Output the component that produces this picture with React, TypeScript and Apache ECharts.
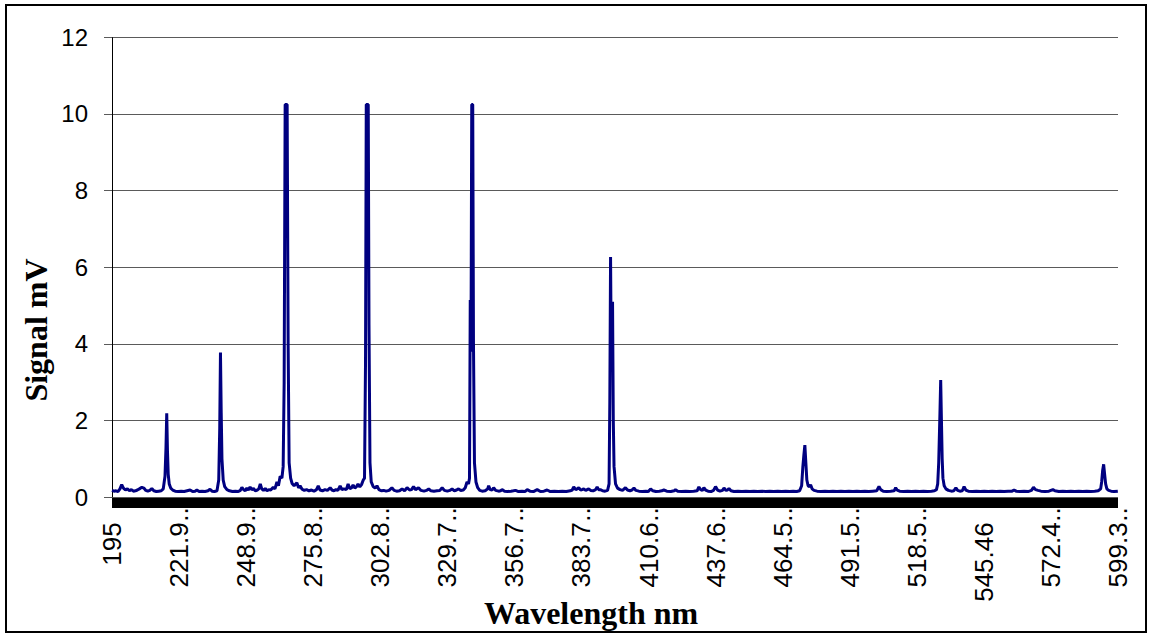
import React, { useEffect, useRef } from "react";
import * as echarts from "echarts";

// Emission spectrum: wavelength (nm) and detector signal (mV)
const WAVELENGTH_NM = [
  195.0, 195.8, 196.6, 197.4, 198.2, 198.9, 199.6, 200.4, 201.2, 202.0, 202.8, 203.6, 204.4, 205.2, 206.0, 207.0,
  207.8, 208.6, 209.4, 210.2, 211.0, 211.8, 212.8, 213.8, 214.8, 215.6, 216.3, 216.7, 217.0, 217.3, 217.6, 218.0,
  218.6, 219.4, 220.4, 221.6, 222.8, 224.0, 225.2, 226.4, 227.4, 228.4, 229.1, 230.0, 231.2, 232.4, 233.6, 234.4,
  235.2, 236.2, 237.2, 237.9, 238.3, 238.6, 238.9, 239.2, 239.7, 240.3, 241.2, 242.2, 243.4, 244.6, 245.8, 246.6,
  247.2, 247.9, 248.6, 249.2, 249.8, 250.5, 251.2, 251.9, 252.6, 253.4, 254.0, 254.6, 255.2, 255.9, 256.6, 257.3,
  258.0, 258.8, 259.8, 260.5, 261.3, 261.9, 262.6, 263.3, 263.8, 264.2, 264.6, 265.4, 265.8, 266.2, 266.8, 267.4,
  268.2, 269.3, 270.0, 270.6, 271.4, 272.3, 273.2, 274.2, 275.2, 276.2, 277.2, 277.9, 278.6, 279.6, 280.6, 281.6,
  282.7, 283.4, 284.2, 285.0, 285.8, 286.7, 287.4, 288.2, 289.2, 289.9, 290.6, 291.3, 291.9, 292.6, 293.3, 293.9,
  294.6, 295.3, 296.0, 296.5, 296.9, 297.2, 298.0, 298.3, 298.7, 299.2, 300.0, 300.8, 301.5, 302.3, 303.2, 304.2,
  305.2, 306.4, 307.5, 308.4, 309.4, 310.6, 311.6, 312.6, 313.6, 314.6, 315.4, 316.2, 317.0, 318.2, 319.2, 320.4,
  321.4, 322.3, 323.2, 324.4, 325.6, 326.8, 327.7, 328.6, 329.8, 330.8, 331.7, 332.6, 333.5, 334.3, 335.2, 336.2,
  337.0, 337.7, 338.3, 338.7, 339.0, 339.3, 339.6, 340.0, 340.3, 340.7, 341.3, 342.0, 342.8, 343.8, 345.0, 346.0,
  346.4, 347.0, 347.8, 348.4, 349.2, 350.4, 351.2, 351.8, 352.8, 354.0, 355.4, 356.4, 357.2, 358.4, 359.8, 361.0,
  361.9, 363.0, 364.4, 365.9, 367.2, 368.6, 369.9, 371.2, 372.8, 374.4, 376.0, 377.6, 379.2, 380.0, 380.6, 381.4,
  382.0, 382.6, 383.4, 384.0, 384.6, 385.4, 386.0, 386.6, 387.4, 388.4, 389.4, 390.0, 390.6, 391.3, 392.2, 393.2,
  394.2, 394.8, 395.1, 395.4, 395.7, 396.0, 396.2, 396.5, 396.8, 397.4, 398.2, 399.2, 400.2, 401.4, 402.2, 403.2,
  404.0, 404.8, 405.6, 406.8, 408.2, 409.6, 410.6, 411.5, 412.4, 413.6, 415.0, 416.0, 416.8, 418.0, 419.6, 421.0,
  421.5, 422.4, 424.0, 425.6, 427.2, 428.8, 430.2, 430.9, 431.6, 432.3, 432.9, 433.6, 434.6, 435.8, 436.8, 437.6,
  438.4, 439.4, 440.4, 441.0, 441.8, 442.4, 443.0, 443.8, 445.0, 446.6, 448.2, 449.8, 451.4, 453.0, 454.6, 456.2,
  457.8, 459.4, 461.0, 462.6, 464.2, 465.8, 467.4, 468.8, 470.2, 471.4, 472.2, 472.7, 473.1, 473.5, 473.9, 474.3,
  474.8, 475.4, 475.8, 476.4, 477.2, 478.4, 480.0, 481.6, 483.2, 484.8, 486.4, 488.0, 489.6, 491.2, 492.8, 494.4,
  496.0, 497.6, 499.2, 500.8, 502.4, 503.3, 504.0, 505.0, 506.4, 508.0, 509.4, 510.0, 510.6, 511.6, 513.2, 514.8,
  516.4, 518.0, 519.6, 521.2, 522.8, 524.4, 525.6, 526.4, 526.9, 527.3, 527.8, 528.1, 528.4, 528.7, 529.0, 529.5,
  530.2, 531.2, 532.4, 533.4, 534.2, 534.9, 535.8, 536.8, 537.5, 538.2, 539.2, 540.8, 542.4, 544.0, 545.6, 547.2,
  548.8, 550.4, 552.0, 553.6, 555.2, 556.8, 557.6, 558.4, 560.0, 561.6, 563.2, 564.6, 565.4, 566.2, 567.2, 568.4,
  570.0, 571.6, 573.2, 574.0, 575.6, 577.2, 578.8, 580.4, 582.0, 583.6, 585.2, 586.8, 588.4, 590.0, 591.4, 592.4,
  592.8, 593.2, 593.6, 594.0, 594.4, 594.9, 595.6, 596.6, 597.8, 599.3,
];

const SIGNAL_MV = [
  0.18, 0.16, 0.17, 0.15, 0.22, 0.33, 0.24, 0.19, 0.22, 0.17, 0.2, 0.16, 0.17, 0.19, 0.22, 0.26,
  0.24, 0.18, 0.16, 0.18, 0.23, 0.17, 0.15, 0.16, 0.17, 0.22, 0.55, 1.3, 2.19, 1.2, 0.6, 0.35,
  0.24, 0.19, 0.16, 0.15, 0.16, 0.15, 0.17, 0.19, 0.15, 0.16, 0.19, 0.15, 0.16, 0.15, 0.17, 0.21,
  0.16, 0.15, 0.17, 0.45, 1.8, 3.78, 2.2, 1.0, 0.45, 0.28, 0.2, 0.17, 0.15, 0.16, 0.15, 0.18,
  0.26, 0.2, 0.17, 0.24, 0.19, 0.27, 0.2, 0.23, 0.17, 0.19, 0.22, 0.35, 0.22, 0.18, 0.23, 0.17,
  0.2, 0.19, 0.26, 0.22, 0.4, 0.3, 0.55, 0.5, 0.8, 3.0, 10.25, 10.25, 4.0, 0.9, 0.5, 0.36,
  0.3, 0.38, 0.25, 0.3, 0.21, 0.18, 0.2, 0.17, 0.19, 0.16, 0.2, 0.3, 0.19, 0.17, 0.2, 0.18,
  0.25, 0.19, 0.17, 0.2, 0.18, 0.3, 0.2, 0.22, 0.2, 0.35, 0.22, 0.25, 0.32, 0.24, 0.28, 0.35,
  0.27, 0.33, 0.45, 0.5, 3.5, 10.25, 10.25, 4.5, 0.9, 0.4, 0.28, 0.24, 0.3, 0.2, 0.17, 0.18,
  0.16, 0.18, 0.25, 0.18, 0.16, 0.17, 0.22, 0.17, 0.25, 0.19, 0.2, 0.28, 0.2, 0.25, 0.18, 0.16,
  0.18, 0.22, 0.17, 0.16, 0.17, 0.18, 0.25, 0.18, 0.16, 0.18, 0.22, 0.17, 0.19, 0.22, 0.18, 0.19,
  0.25, 0.4, 0.35, 0.5, 5.15, 3.8, 10.25, 10.25, 4.0, 0.9, 0.4, 0.25, 0.18, 0.16, 0.17, 0.22,
  0.3, 0.2, 0.19, 0.25, 0.18, 0.16, 0.17, 0.2, 0.16, 0.15, 0.16, 0.17, 0.18, 0.15, 0.16, 0.15,
  0.2, 0.16, 0.15, 0.2, 0.15, 0.16, 0.19, 0.15, 0.16, 0.15, 0.16, 0.15, 0.17, 0.19, 0.27, 0.2,
  0.22, 0.25, 0.19, 0.2, 0.22, 0.18, 0.2, 0.22, 0.18, 0.17, 0.2, 0.27, 0.2, 0.2, 0.17, 0.16,
  0.18, 0.35, 2.5, 6.27, 3.5, 4.2, 5.1, 2.0, 0.8, 0.35, 0.24, 0.2, 0.18, 0.25, 0.19, 0.17,
  0.19, 0.24, 0.18, 0.16, 0.15, 0.16, 0.15, 0.22, 0.17, 0.15, 0.16, 0.17, 0.19, 0.16, 0.15, 0.17,
  0.2, 0.16, 0.15, 0.16, 0.15, 0.16, 0.17, 0.27, 0.2, 0.18, 0.25, 0.19, 0.16, 0.15, 0.18, 0.28,
  0.19, 0.16, 0.18, 0.24, 0.18, 0.19, 0.23, 0.17, 0.15, 0.16, 0.15, 0.16, 0.15, 0.16, 0.15, 0.16,
  0.15, 0.16, 0.15, 0.16, 0.15, 0.16, 0.15, 0.16, 0.15, 0.17, 0.3, 0.8, 1.1, 1.36, 0.9, 0.45,
  0.3, 0.28, 0.33, 0.22, 0.18, 0.16, 0.15, 0.16, 0.15, 0.16, 0.15, 0.16, 0.15, 0.16, 0.15, 0.16,
  0.15, 0.16, 0.15, 0.16, 0.17, 0.28, 0.2, 0.16, 0.15, 0.16, 0.17, 0.25, 0.19, 0.16, 0.15, 0.16,
  0.15, 0.16, 0.15, 0.16, 0.15, 0.16, 0.17, 0.2, 0.35, 0.9, 2.2, 3.06, 2.0, 1.0, 0.5, 0.3,
  0.22, 0.18, 0.16, 0.17, 0.25, 0.18, 0.16, 0.17, 0.28, 0.19, 0.16, 0.15, 0.16, 0.15, 0.16, 0.15,
  0.16, 0.15, 0.16, 0.15, 0.16, 0.16, 0.19, 0.16, 0.15, 0.16, 0.15, 0.18, 0.26, 0.2, 0.18, 0.16,
  0.15, 0.16, 0.2, 0.17, 0.15, 0.16, 0.15, 0.16, 0.15, 0.16, 0.15, 0.16, 0.15, 0.16, 0.17, 0.22,
  0.4, 0.7, 0.86, 0.6, 0.35, 0.22, 0.18, 0.16, 0.15, 0.16,
];

// Category-style tick labels along the wavelength axis
const TICK_NM = [
  195, 221.958, 248.916, 275.874, 302.832, 329.79, 356.748, 383.706, 410.664, 437.622, 464.58, 491.538, 518.496,
  545.454, 572.412, 599.37,
];
const TICK_LABELS = [
  "195", "221.9..", "248.9..", "275.8..", "302.8..", "329.7..", "356.7..", "383.7..", "410.6..", "437.6..",
  "464.5..", "491.5..", "518.5..", "545.46", "572.4..", "599.3..",
];

const Y_MIN = 0;
const Y_MAX = 12;
const Y_STEP = 2;

const SANS = '"Liberation Sans", Arial, sans-serif';
const SERIF = '"Liberation Serif", "Times New Roman", serif';

function tickLabel(value: number): string {
  let best = 0;
  for (let i = 1; i < TICK_NM.length; i++) {
    if (Math.abs(TICK_NM[i] - value) < Math.abs(TICK_NM[best] - value)) best = i;
  }
  const t = TICK_LABELS[best];
  if (t.endsWith("..")) return `{v|${t.slice(0, -2)}}{e|..}`;
  return `{v|${t}}{e| }`;
}

export default function App() {
  const ref = useRef<HTMLDivElement>(null);

  useEffect(() => {
    if (!ref.current) return;
    const chart = echarts.init(ref.current, undefined, { renderer: "svg" });
    const points = WAVELENGTH_NM.map((nm, i) => [nm, SIGNAL_MV[i]]);

    chart.setOption({
      animation: false,
      backgroundColor: "#ffffff",
      grid: { left: 112, top: 37.3, right: 32, bottom: 138.7, containLabel: false },
      xAxis: {
        type: "value",
        min: TICK_NM[0],
        max: TICK_NM[TICK_NM.length - 1],
        offset: 5,
        splitLine: { show: false },
        axisLine: { show: true, onZero: false, lineStyle: { color: "#000000", width: 10, cap: "butt" } },
        axisTick: { show: false },
        axisLabel: {
          customValues: TICK_NM,
          rotate: 90,
          margin: 5,
          color: "#000000",
          fontFamily: SANS,
          fontSize: 26,
          formatter: (v: number) => tickLabel(v),
          rich: {
            v: { fontFamily: SANS, fontSize: 26, color: "#000000" },
            e: { fontFamily: SANS, fontSize: 26, color: "#000000", width: 15 },
          },
        },
      },
      yAxis: {
        type: "value",
        min: Y_MIN,
        max: Y_MAX,
        interval: Y_STEP,
        axisLine: { show: true, lineStyle: { color: "#000000", width: 1, cap: "butt" } },
        axisTick: { show: true, length: 8, lineStyle: { color: "#5a5a5a", width: 1 } },
        splitLine: { show: true, lineStyle: { color: "#5a5a5a", width: 1 } },
        axisLabel: { color: "#000000", fontFamily: SANS, fontSize: 24, margin: 24 },
      },
      graphic: [
        {
          type: "rect",
          shape: { x: 6, y: 5, width: 1140, height: 627 },
          style: { fill: "none", stroke: "#000000", lineWidth: 2 },
          silent: true,
        },
        {
          type: "text",
          x: 36,
          y: 330,
          rotation: Math.PI / 2,
          style: {
            text: "Signal mV",
            font: `bold 32px ${SERIF}`,
            fill: "#000000",
            align: "center",
            verticalAlign: "middle",
            textAlign: "center",
            textVerticalAlign: "middle",
          },
        },
        {
          type: "text",
          x: 591,
          y: 613,
          style: {
            text: "Wavelength nm",
            font: `bold 32px ${SERIF}`,
            fill: "#000000",
            align: "center",
            verticalAlign: "middle",
            textAlign: "center",
            textVerticalAlign: "middle",
          },
        },
      ],
      series: [
        {
          type: "line",
          data: points,
          showSymbol: false,
          symbol: "none",
          lineStyle: { color: "#000080", width: 3 },
          itemStyle: { color: "#000080" },
          z: 3,
        },
      ],
    });

    return () => chart.dispose();
  }, []);

  return (
    <div
      ref={ref}
      style={{ position: "absolute", left: 0, top: 0, width: 1150, height: 636, background: "#ffffff" }}
    />
  );
}
